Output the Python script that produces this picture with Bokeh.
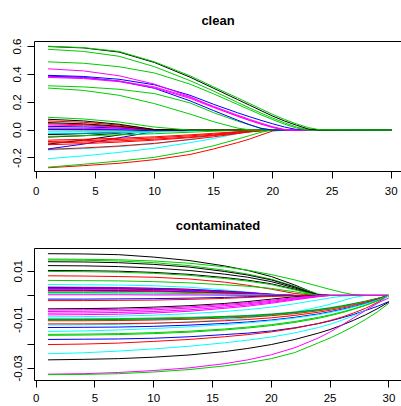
from bokeh.plotting import figure
from bokeh.layouts import column
from bokeh.models import Range1d, FixedTicker, LinearAxis, NumeralTickFormatter, ColumnDataSource
from bokeh.embed import file_html
from bokeh.resources import INLINE

PALETTE = {"black": "#000000", "red": "#FF0000", "green": "#00CD00",
           "blue": "#0000FF", "cyan": "#00FFFF", "magenta": "#FF00FF"}

# ---------------- clean panel ----------------
clean_steps = [1, 4, 7, 10, 13, 15, 17, 18, 19, 20, 21, 22, 23, 24, 30]

c01 = [0.600, 0.590, 0.560, 0.485, 0.380, 0.300, 0.220, 0.180, 0.140, 0.100, 0.065, 0.035, 0.008, 0, 0]
c02 = [0.602, 0.592, 0.565, 0.490, 0.390, 0.310, 0.232, 0.192, 0.152, 0.112, 0.076, 0.045, 0.018, 0.002, 0]
c03 = [0.580, 0.565, 0.530, 0.455, 0.355, 0.280, 0.200, 0.160, 0.122, 0.086, 0.052, 0.022, 0.003, 0, 0]
c04 = [0.490, 0.480, 0.455, 0.410, 0.330, 0.260, 0.185, 0.148, 0.110, 0.075, 0.042, 0.015, 0, 0, 0]
c05 = [0.440, 0.425, 0.390, 0.330, 0.240, 0.165, 0.100, 0.070, 0.043, 0.018, 0.002, 0, 0, 0, 0]
c06 = [0.393, 0.385, 0.365, 0.325, 0.250, 0.185, 0.125, 0.097, 0.070, 0.045, 0.022, 0.004, 0, 0, 0]
c07 = [0.383, 0.375, 0.352, 0.310, 0.235, 0.170, 0.108, 0.078, 0.050, 0.024, 0.004, 0, 0, 0, 0]
c08 = [0.378, 0.370, 0.348, 0.303, 0.228, 0.162, 0.101, 0.072, 0.045, 0.020, 0.002, 0, 0, 0, 0]
c09 = [0.387, 0.378, 0.352, 0.300, 0.210, 0.140, 0.072, 0.040, 0.012, 0, 0, 0, 0, 0, 0]
c10 = [0.318, 0.310, 0.293, 0.262, 0.195, 0.125, 0.065, 0.038, 0.014, 0, 0, 0, 0, 0, 0]
c11 = [0.302, 0.285, 0.250, 0.190, 0.115, 0.060, 0.015, 0.002, 0, 0, 0, 0, 0, 0, 0]
c12 = [0.092, 0.080, 0.058, 0.022, 0, 0, 0, 0, 0, 0, 0, 0, 0, 0, 0]
c13 = [0.078, 0.066, 0.042, 0.004, 0, 0, 0, 0, 0, 0, 0, 0, 0, 0, 0]
c14 = [0.066, 0.056, 0.036, 0.004, 0, 0, 0, 0, 0, 0, 0, 0, 0, 0, 0]
c15 = [0.054, 0.045, 0.028, 0.002, 0, 0, 0, 0, 0, 0, 0, 0, 0, 0, 0]
c16 = [0.046, 0.038, 0.024, 0.002, 0, 0, 0, 0, 0, 0, 0, 0, 0, 0, 0]
c17 = [0.037, 0.031, 0.020, 0.002, 0, 0, 0, 0, 0, 0, 0, 0, 0, 0, 0]
c18 = [0.027, 0.023, 0.015, 0.002, 0, 0, 0, 0, 0, 0, 0, 0, 0, 0, 0]
c19 = [0.016, 0.013, 0.008, 0.001, 0, 0, 0, 0, 0, 0, 0, 0, 0, 0, 0]
c20 = [0.008, 0.007, 0.004, 0.0005, 0, 0, 0, 0, 0, 0, 0, 0, 0, 0, 0]
c21 = [0.003, 0.002, 0.001, 0, 0, 0, 0, 0, 0, 0, 0, 0, 0, 0, 0]
c22 = [-0.012, -0.011, -0.010, -0.008, -0.004, -0.001, 0, 0, 0, 0, 0, 0, 0, 0, 0]
c23 = [-0.022, -0.021, -0.019, -0.015, -0.008, -0.002, 0, 0, 0, 0, 0, 0, 0, 0, 0]
c24 = [-0.032, -0.025, -0.015, -0.001, 0, 0, 0, 0, 0, 0, 0, 0, 0, 0, 0]
c25 = [-0.028, -0.024, -0.016, -0.004, 0, 0, 0, 0, 0, 0, 0, 0, 0, 0, 0]
c26 = [-0.045, -0.040, -0.034, -0.026, -0.015, -0.008, -0.001, 0, 0, 0, 0, 0, 0, 0, 0]
c27 = [-0.050, -0.040, -0.022, -0.001, 0, 0, 0, 0, 0, 0, 0, 0, 0, 0, 0]
c28 = [-0.072, -0.066, -0.058, -0.048, -0.034, -0.023, -0.011, -0.005, -0.001, 0, 0, 0, 0, 0, 0]
c29 = [-0.082, -0.076, -0.067, -0.056, -0.041, -0.029, -0.015, -0.008, -0.002, 0, 0, 0, 0, 0, 0]
c30 = [-0.092, -0.086, -0.077, -0.065, -0.049, -0.035, -0.020, -0.011, -0.004, 0, 0, 0, 0, 0, 0]
c31 = [-0.100, -0.072, -0.035, 0, 0, 0, 0, 0, 0, 0, 0, 0, 0, 0, 0]
c32 = [-0.105, -0.097, -0.086, -0.072, -0.054, -0.039, -0.022, -0.013, -0.005, 0, 0, 0, 0, 0, 0]
c33 = [-0.135, -0.100, -0.055, -0.010, 0, 0, 0, 0, 0, 0, 0, 0, 0, 0, 0]
c34 = [-0.138, -0.128, -0.114, -0.095, -0.068, -0.048, -0.025, -0.013, -0.004, 0, 0, 0, 0, 0, 0]
c35 = [-0.143, -0.133, -0.118, -0.098, -0.065, -0.038, -0.010, 0, 0, 0, 0, 0, 0, 0, 0]
c36 = [-0.205, -0.185, -0.160, -0.130, -0.090, -0.060, -0.025, -0.008, 0, 0, 0, 0, 0, 0, 0]
c37 = [-0.266, -0.245, -0.222, -0.195, -0.150, -0.112, -0.065, -0.040, -0.015, 0, 0, 0, 0, 0, 0]
c38 = [-0.270, -0.255, -0.238, -0.212, -0.175, -0.135, -0.090, -0.065, -0.035, -0.006, 0, 0, 0, 0, 0]

clean_paths = [c38, c37, c36, c35, c34, c33, c32, c31, c30, c29, c28, c27, c26, c25, c24, c23,
               c22, c21, c20, c19, c18, c17, c16, c15, c14, c13, c12,
               c11, c10, c09, c08, c07, c06, c05, c04, c03, c01, c02]
clean_colors = ["red", "green", "cyan", "cyan", "red", "blue", "red", "black", "red", "red", "red",
                "black", "green", "blue", "black", "cyan", "cyan", "black", "blue", "magenta",
                "blue", "magenta", "red", "black", "red", "black", "green",
                "green", "green", "blue", "magenta", "magenta", "blue", "magenta", "green",
                "green", "black", "green"]

# ---------------- contaminated panel ----------------
cont_steps = [1, 4, 7, 10, 13, 16, 18, 20, 22, 24, 25, 26, 27, 28, 29, 30]

k01 = [0.0172, 0.0171, 0.0168, 0.0158, 0.0144, 0.0122, 0.0103, 0.0078, 0.0043, 0.0003, 0, 0, 0, 0, 0, 0]
k02 = [0.0150, 0.0149, 0.0147, 0.0142, 0.0133, 0.0118, 0.0104, 0.0086, 0.0064, 0.0038, 0.0025, 0.0013, 0.0003, 0, 0, 0]
k03 = [0.0146, 0.0145, 0.0142, 0.0135, 0.0123, 0.0104, 0.0088, 0.0067, 0.0038, 0.0006, 0, 0, 0, 0, 0, 0]
k04 = [0.0139, 0.0138, 0.0135, 0.0128, 0.0117, 0.0099, 0.0084, 0.0064, 0.0035, 0.0002, 0, 0, 0, 0, 0, 0]
k05 = [0.0123, 0.0122, 0.0119, 0.0113, 0.0103, 0.0088, 0.0075, 0.0057, 0.0031, 0.0001, 0, 0, 0, 0, 0, 0]
k06 = [0.0103, 0.0102, 0.0100, 0.0095, 0.0087, 0.0074, 0.0063, 0.0048, 0.0026, 0, 0, 0, 0, 0, 0, 0]
k07 = [0.0099, 0.0098, 0.0096, 0.0091, 0.0083, 0.0070, 0.0059, 0.0045, 0.0023, 0, 0, 0, 0, 0, 0, 0]
k08 = [0.0081, 0.0080, 0.0078, 0.0075, 0.0068, 0.0055, 0.0042, 0.0026, 0.0008, 0, 0, 0, 0, 0, 0, 0]
k09 = [0.0062, 0.0061, 0.0060, 0.0057, 0.0052, 0.0044, 0.0038, 0.0029, 0.0015, 0, 0, 0, 0, 0, 0, 0]
k10 = [0.0045, 0.0044, 0.0043, 0.0040, 0.0034, 0.0023, 0.0014, 0.0005, 0, 0, 0, 0, 0, 0, 0, 0]
k11 = [0.0035, 0.0034, 0.0033, 0.0030, 0.0026, 0.0018, 0.0012, 0.0005, 0, 0, 0, 0, 0, 0, 0, 0]
k12 = [0.0033, 0.0032, 0.0031, 0.0029, 0.0025, 0.0018, 0.0012, 0.0005, 0, 0, 0, 0, 0, 0, 0, 0]
k13 = [0.0030, 0.0030, 0.0029, 0.0027, 0.0023, 0.0016, 0.0010, 0.0004, 0, 0, 0, 0, 0, 0, 0, 0]
k14 = [0.0027, 0.0027, 0.0026, 0.0024, 0.0020, 0.0014, 0.0009, 0.0003, 0, 0, 0, 0, 0, 0, 0, 0]
k15 = [0.0024, 0.0024, 0.0023, 0.0021, 0.0018, 0.0012, 0.0008, 0.0003, 0, 0, 0, 0, 0, 0, 0, 0]
k16 = [0.0021, 0.0021, 0.0020, 0.0018, 0.0015, 0.0010, 0.0006, 0.0002, 0, 0, 0, 0, 0, 0, 0, 0]
k17 = [0.0018, 0.0018, 0.0017, 0.0016, 0.0013, 0.0009, 0.0005, 0.0002, 0, 0, 0, 0, 0, 0, 0, 0]
k18 = [0.0012, 0.0012, 0.0011, 0.0010, 0.0008, 0.0005, 0.0003, 0.0001, 0, 0, 0, 0, 0, 0, 0, 0]
k19 = [0.0007, 0.0007, 0.0007, 0.0006, 0.0005, 0.0003, 0.0002, 0.0001, 0, 0, 0, 0, 0, 0, 0, 0]
k20 = [0.0003, 0.0003, 0.0003, 0.0002, 0.0002, 0.0001, 0, 0, 0, 0, 0, 0, 0, 0, 0, 0]
k21 = [-0.0015, -0.0015, -0.0014, -0.0013, -0.0011, -0.0008, -0.0005, -0.0002, 0, 0, 0, 0, 0, 0, 0, 0]
k22 = [-0.0021, -0.0021, -0.0020, -0.0019, -0.0016, -0.0012, -0.0008, -0.0004, -0.0001, 0, 0, 0, 0, 0, 0, 0]
k23 = [-0.0055, -0.0054, -0.0052, -0.0048, -0.0042, -0.0033, -0.0025, -0.0015, -0.0005, 0, 0, 0, 0, 0, 0, 0]
k24 = [-0.0060, -0.0059, -0.0057, -0.0053, -0.0047, -0.0037, -0.0030, -0.0020, -0.0009, 0, 0, 0, 0, 0, 0, 0]
k25 = [-0.0066, -0.0065, -0.0063, -0.0059, -0.0052, -0.0042, -0.0034, -0.0024, -0.0012, -0.0002, 0, 0, 0, 0, 0, 0]
k26 = [-0.0073, -0.0072, -0.0070, -0.0066, -0.0059, -0.0048, -0.0039, -0.0028, -0.0015, -0.0004, 0, 0, 0, 0, 0, 0]
k27 = [-0.0080, -0.0079, -0.0077, -0.0072, -0.0065, -0.0053, -0.0044, -0.0032, -0.0018, -0.0005, 0, 0, 0, 0, 0, 0]
k28 = [-0.0088, -0.0087, -0.0085, -0.0081, -0.0075, -0.0066, -0.0058, -0.0048, -0.0034, -0.0018, -0.0010, -0.0003, 0, 0, 0, 0]
k29 = [-0.0096, -0.0096, -0.0095, -0.0093, -0.0090, -0.0086, -0.0082, -0.0076, -0.0068, -0.0057, -0.0050, -0.0042, -0.0033, -0.0023, -0.0012, 0]
k30 = [-0.0100, -0.0100, -0.0099, -0.0097, -0.0094, -0.0089, -0.0085, -0.0079, -0.0071, -0.0060, -0.0053, -0.0045, -0.0035, -0.0025, -0.0013, 0]
k31 = [-0.0104, -0.0104, -0.0103, -0.0101, -0.0098, -0.0093, -0.0089, -0.0083, -0.0075, -0.0063, -0.0056, -0.0047, -0.0037, -0.0026, -0.0014, 0]
k32 = [-0.0101, -0.0101, -0.0100, -0.0098, -0.0095, -0.0090, -0.0086, -0.0080, -0.0072, -0.0061, -0.0054, -0.0046, -0.0036, -0.0025, -0.0013, 0]
k33 = [-0.0117, -0.0117, -0.0116, -0.0114, -0.0110, -0.0104, -0.0099, -0.0092, -0.0082, -0.0069, -0.0061, -0.0052, -0.0041, -0.0029, -0.0015, 0]
k34 = [-0.0122, -0.0121, -0.0119, -0.0115, -0.0109, -0.0100, -0.0092, -0.0082, -0.0068, -0.0048, -0.0036, -0.0022, -0.0008, 0, 0, 0]
k35 = [-0.0132, -0.0131, -0.0130, -0.0127, -0.0122, -0.0115, -0.0109, -0.0101, -0.0090, -0.0076, -0.0067, -0.0057, -0.0046, -0.0033, -0.0018, 0]
k36 = [-0.0148, -0.0146, -0.0142, -0.0136, -0.0129, -0.0120, -0.0113, -0.0104, -0.0093, -0.0079, -0.0070, -0.0060, -0.0048, -0.0035, -0.0019, 0]
k37 = [-0.0160, -0.0159, -0.0157, -0.0153, -0.0147, -0.0138, -0.0130, -0.0120, -0.0107, -0.0090, -0.0080, -0.0068, -0.0055, -0.0040, -0.0022, 0]
k38 = [-0.0164, -0.0163, -0.0161, -0.0157, -0.0151, -0.0142, -0.0134, -0.0124, -0.0111, -0.0094, -0.0083, -0.0071, -0.0057, -0.0041, -0.0023, 0]
k39 = [-0.0181, -0.0180, -0.0179, -0.0176, -0.0170, -0.0161, -0.0155, -0.0146, -0.0133, -0.0116, -0.0105, -0.0092, -0.0078, -0.0062, -0.0045, -0.0025]
k40 = [-0.0202, -0.0200, -0.0196, -0.0189, -0.0181, -0.0170, -0.0161, -0.0150, -0.0135, -0.0115, -0.0103, -0.0089, -0.0072, -0.0053, -0.0029, 0]
k41 = [-0.0240, -0.0236, -0.0229, -0.0220, -0.0209, -0.0195, -0.0184, -0.0171, -0.0154, -0.0132, -0.0118, -0.0102, -0.0083, -0.0061, -0.0034, 0]
k42 = [-0.0265, -0.0263, -0.0260, -0.0254, -0.0245, -0.0231, -0.0218, -0.0202, -0.0181, -0.0155, -0.0140, -0.0122, -0.0102, -0.0080, -0.0055, -0.0027]
k43 = [-0.0324, -0.0322, -0.0317, -0.0309, -0.0298, -0.0281, -0.0265, -0.0244, -0.0215, -0.0175, -0.0150, -0.0122, -0.0092, -0.0062, -0.0032, -0.0010]
k44 = [-0.0326, -0.0325, -0.0322, -0.0315, -0.0305, -0.0290, -0.0277, -0.0260, -0.0235, -0.0195, -0.0175, -0.0152, -0.0127, -0.0099, -0.0068, -0.0032]

cont_paths = [k28, k34, k01, k02, k03, k04, k05, k06, k07, k08, k09, k10, k11, k12, k13, k14,
              k15, k16, k17, k18, k19, k20, k21, k22, k23, k24, k25, k26, k27,
              k29, k30, k31, k32, k33, k35, k36, k37, k38, k39, k40, k41, k42, k43, k44]
cont_colors = ["cyan", "cyan", "black", "green", "green", "black", "black", "black", "green", "red",
               "green", "cyan", "magenta", "blue", "red", "blue", "magenta", "blue", "red", "green",
               "cyan", "magenta", "blue", "red", "black", "magenta", "magenta", "magenta", "magenta",
               "green", "blue", "red", "green", "red", "blue", "cyan", "green", "green", "blue",
               "red", "cyan", "black", "magenta", "green"]

clean_yticks = [-0.2, 0.0, 0.2, 0.4, 0.6]
cont_yticks = [-0.03, -0.02, -0.01, 0.0, 0.01]
x_ticks = [0, 5, 10, 15, 20, 25, 30]

FONT = "Liberation Sans"


def make_panel(title, steps, paths, colors, x_rng, y_rng, yticks, yfmt, yoverrides,
               height, b_left, b_top, b_bottom, x_standoff, y_standoff, t_standoff):
    p = figure(width=401, height=height, output_backend="svg", toolbar_location=None,
               x_range=Range1d(*x_rng), y_range=Range1d(*y_rng),
               min_border_left=b_left, min_border_right=0, min_border_top=b_top,
               min_border_bottom=b_bottom, title=title)
    p.title.align = "center"
    p.title.vertical_align = "top"
    p.title.text_font = FONT
    p.title.text_font_size = "13px"
    p.title.text_font_style = "bold"
    p.title.text_color = "black"
    p.title.standoff = t_standoff
    p.outline_line_color = None
    p.xgrid.visible = False
    p.ygrid.visible = False
    p.background_fill_color = "white"
    p.border_fill_color = "white"

    src = ColumnDataSource(dict(xs=[steps] * len(paths), ys=paths,
                                c=[PALETTE[c] for c in colors]))
    p.multi_line(xs="xs", ys="ys", line_color="c", line_width=1, source=src)

    for ax in (p.xaxis[0], p.yaxis[0]):
        ax.axis_line_color = "black"
        ax.major_tick_line_color = "black"
        ax.major_tick_in = 0
        ax.major_tick_out = 7
        ax.minor_tick_line_color = None
        ax.major_label_text_font = FONT
        ax.major_label_text_font_size = "11.5px"
        ax.major_label_text_color = "black"
    p.xaxis.ticker = FixedTicker(ticks=x_ticks)
    p.xaxis.major_label_standoff = x_standoff
    p.yaxis.ticker = FixedTicker(ticks=yticks)
    p.yaxis.formatter = NumeralTickFormatter(format=yfmt)
    p.yaxis.major_label_overrides = yoverrides
    p.yaxis.major_label_orientation = "vertical"
    p.yaxis.major_label_standoff = y_standoff

    top = LinearAxis(ticker=FixedTicker(ticks=[]), axis_line_color="black",
                     major_tick_out=0, major_tick_in=0, minor_tick_out=0, minor_tick_in=0,
                     major_label_standoff=0)
    p.add_layout(top, "above")
    return p


p1 = make_panel("clean", clean_steps, clean_paths, clean_colors,
                (-0.144, 30.87), (-0.297, 0.636), clean_yticks, "0.0",
                {-0.2: "-0.2", 0.0: "0.0", 0.2: "0.2", 0.4: "0.4", 0.6: "0.6"},
                203, 34, 40, 32, 8, 6, 24)
p2 = make_panel("contaminated", cont_steps, cont_paths, cont_colors,
                (-0.143, 31.07), (-0.035, 0.01934), cont_yticks, "0.00",
                {-0.03: "-0.03", -0.02: "", -0.01: "-0.01", 0.0: "", 0.01: "0.01"},
                203, 31, 45, 26, 6, 5, 28)

layout = column(p1, p2, spacing=0)
open("out.html", "w").write(file_html(layout, INLINE))
